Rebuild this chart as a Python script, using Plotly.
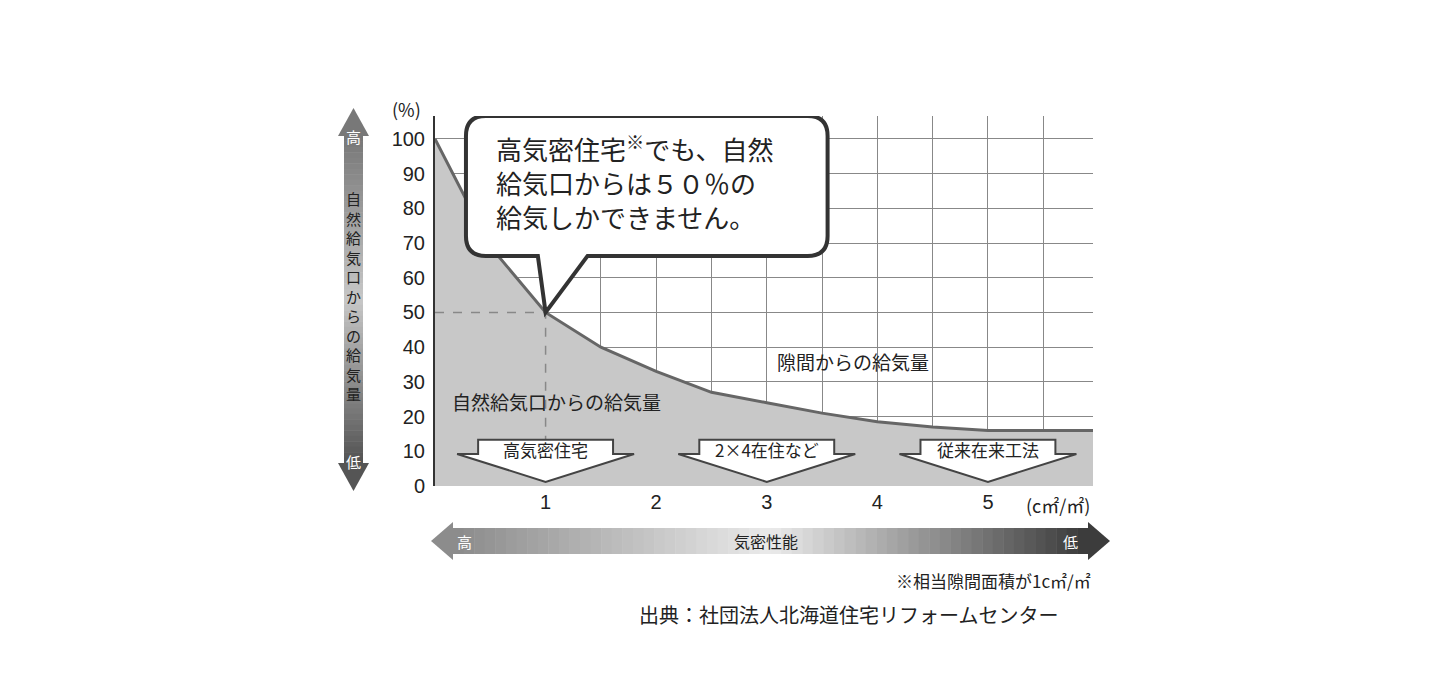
import plotly.graph_objects as go

x_vals = [0, 0.5, 1, 1.5, 2, 2.5, 3, 3.5, 4, 4.5, 5, 5.5, 5.95]
y_vals = [100, 69, 50, 40, 33, 27, 24, 21, 18.5, 17, 16, 16, 16]
x_ticks = [1, 2, 3, 4, 5]
y_ticks = [0, 10, 20, 30, 40, 50, 60, 70, 80, 90, 100]
arrow_labels = ["高気密住宅", "2×4在住など", "従来在来工法"]
arrow_x = [1, 3, 5]

FONT = "Noto Sans CJK JP"
L, R, T, B = 427, 1085, 108, 478
W, H = 1432, 700
def px(x): return (x - L) / (R - L)
def py(y): return (B - y) / (B - T)

fig = go.Figure()
fig.add_trace(go.Scatter(x=x_vals, y=y_vals, mode="lines", fill="tozeroy",
                         fillcolor="#c8c8c8", line=dict(color="#666", width=3),
                         hoverinfo="skip", showlegend=False))
fig.add_trace(go.Scatter(x=[0, 1, 1], y=[50, 50, 0], mode="lines",
                         line=dict(color="#888", width=1.5, dash="dash"),
                         hoverinfo="skip", showlegend=False))

shapes = []
anns = []
for lab, xc in zip(arrow_labels, arrow_x):
    rw, hw = 0.61, 0.8
    path = (f"M {xc-rw},13.3 L {xc+rw},13.3 L {xc+rw},9.2 L {xc+hw},9.2 "
            f"L {xc},1.2 L {xc-hw},9.2 L {xc-rw},9.2 Z")
    shapes.append(dict(type="path", path=path, xref="x", yref="y",
                       fillcolor="white", line=dict(color="#444", width=2)))
    anns.append(dict(x=xc, y=10.5, xref="x", yref="y", text=lab, showarrow=False,
                     font=dict(family=FONT, size=17, color="#222")))

x0, x1, y0, y1, r = 0.28, 3.55, 66.3, 106.6, 0.18
ry = r * 110.7 / 3.47
callout = (f"M {x0+r},{y1} L {x1-r},{y1} Q {x1},{y1} {x1},{y1-ry} L {x1},{y0+ry} "
           f"Q {x1},{y0} {x1-r},{y0} L 1.38,{y0} L 1,50 L 0.93,{y0} L {x0+r},{y0} "
           f"Q {x0},{y0} {x0},{y0+ry} L {x0},{y1-ry} Q {x0},{y1} {x0+r},{y1} Z")
shapes.append(dict(type="path", path=callout, xref="x", yref="y",
                   fillcolor="white", line=dict(color="#333", width=4)))
anns.append(dict(x=px(486), y=py(118), xref="paper", yref="paper", xanchor="left",
                 yanchor="top",
                 text="高気密住宅<sup>※</sup>でも、自然<br>給気口からは５０％の<br>給気しかできません。",
                 align="left", showarrow=False,
                 font=dict(family=FONT, size=26, color="#222")))

def mix(a, b, t):
    return "#%02x%02x%02x" % tuple(int(a[i] + (b[i] - a[i]) * t) for i in range(3))
N = 60
top_c, mid_c, bot_c = (120, 120, 120), (200, 200, 200), (85, 85, 85)
for i in range(N):
    ya, yb = 128 + (455 - 128) * i / N, 128 + (455 - 128) * (i + 1) / N + 0.5
    t = i / (N - 1)
    c = mix(top_c, mid_c, t * 2) if t < 0.5 else mix(mid_c, bot_c, (t - 0.5) * 2)
    shapes.append(dict(type="rect", xref="paper", yref="paper", x0=px(336), x1=px(355),
                       y0=py(yb), y1=py(ya), fillcolor=c, line=dict(width=0), layer="below"))
shapes.append(dict(type="path", xref="paper", yref="paper",
                   path=f"M {px(330)},{py(128)} L {px(361)},{py(128)} L {px(345.5)},{py(100)} Z",
                   fillcolor="#787878", line=dict(width=0)))
shapes.append(dict(type="path", xref="paper", yref="paper",
                   path=f"M {px(330)},{py(455)} L {px(361)},{py(455)} L {px(345.5)},{py(483)} Z",
                   fillcolor="#555555", line=dict(width=0)))
l_c, m_c, r_c = (140, 140, 140), (235, 235, 235), (60, 60, 60)
for i in range(N):
    xa, xb = 445 + (1080 - 445) * i / N, 445 + (1080 - 445) * (i + 1) / N + 0.5
    t = i / (N - 1)
    c = mix(l_c, m_c, t * 2) if t < 0.5 else mix(m_c, r_c, (t - 0.5) * 2)
    shapes.append(dict(type="rect", xref="paper", yref="paper", x0=px(xa), x1=px(xb),
                       y0=py(546), y1=py(520), fillcolor=c, line=dict(width=0)))
shapes.append(dict(type="path", xref="paper", yref="paper",
                   path=f"M {px(445)},{py(514)} L {px(445)},{py(552)} L {px(423)},{py(533)} Z",
                   fillcolor="#8c8c8c", line=dict(width=0)))
shapes.append(dict(type="path", xref="paper", yref="paper",
                   path=f"M {px(1080)},{py(514)} L {px(1080)},{py(552)} L {px(1102)},{py(533)} Z",
                   fillcolor="#3c3c3c", line=dict(width=0)))

def txt(xp, yp, s, size, color="#222", anchor="center", **kw):
    anns.append(dict(x=px(xp), y=py(yp), xref="paper", yref="paper", text=s,
                     showarrow=False, xanchor=anchor, yanchor="middle",
                     font=dict(family=FONT, size=size, color=color), **kw))

txt(345.5, 128, "高", 15, "white")
txt(345.5, 453, "低", 15, "white")
txt(345.5, 288, "自<br>然<br>給<br>気<br>口<br>か<br>ら<br>の<br>給<br>気<br>量", 15)
txt(456, 533, "高", 15, "white")
txt(1062, 533, "低", 15, "white")
txt(758, 533, "気密性能", 16)
txt(398, 101, "(%)", 18)
txt(1050, 497, "(c㎡/㎡)", 18)
txt(845, 353, "隙間からの給気量", 19)
txt(548, 393, "自然給気口からの給気量", 19)
txt(1085, 572, "※相当隙間面積が1c㎡/㎡", 17, anchor="right")
txt(840, 606, "出典：社団法人北海道住宅リフォームセンター", 20)

fig.update_layout(
    width=W, height=H, margin=dict(l=L, r=W - R, t=T, b=H - B, autoexpand=False),
    paper_bgcolor="white", plot_bgcolor="white",
    shapes=shapes, annotations=anns, showlegend=False,
    xaxis=dict(range=[0, 5.95], tickvals=[0.5, 1, 1.5, 2, 2.5, 3, 3.5, 4, 4.5, 5, 5.5],
               ticktext=["", "1", "", "2", "", "3", "", "4", "", "5", ""],
               showgrid=True, gridcolor="#888", gridwidth=1, zeroline=False,
               showline=False, ticks="", ticklabelstandoff=2, automargin=False,
               tickfont=dict(family="Liberation Sans", size=20, color="#222")),
    yaxis=dict(range=[0, 106.6], tickvals=y_ticks, showgrid=True, gridcolor="#888",
               zeroline=False, showline=True, linecolor="#333", linewidth=2, ticks="",
               automargin=False, ticklabelstandoff=4,
               tickfont=dict(family="Liberation Sans", size=20, color="#222")),
)
fig.update_layout(xaxis_layer="above traces", yaxis_layer="above traces")
fig.write_html("out.html")
